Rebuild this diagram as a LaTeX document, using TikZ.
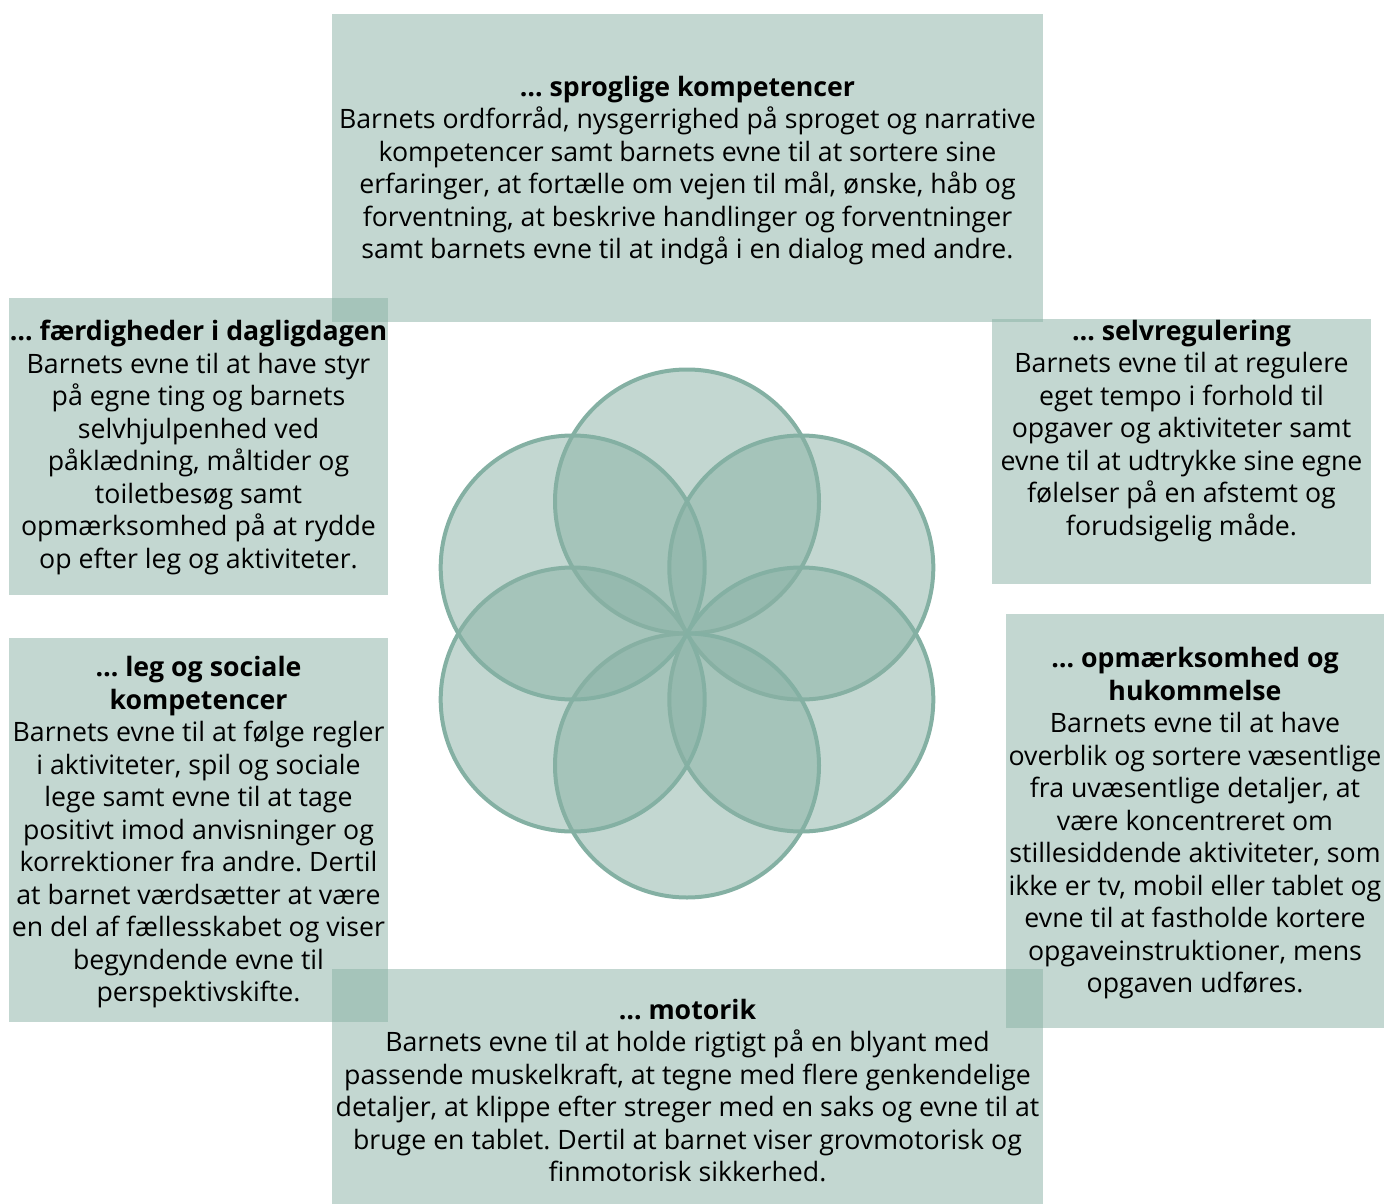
\documentclass[tikz,border=0pt]{standalone}
\usepackage{fontspec}
\setmainfont{Open Sans}
\frenchspacing
\definecolor{boxfill}{RGB}{136,176,164}
\definecolor{ringline}{RGB}{132,176,163}
\begin{document}
\begin{tikzpicture}[x=1pt,y=-1pt,
  panel/.style={rectangle,inner sep=0pt,outer sep=0pt,fill=boxfill,fill opacity=0.5,draw=none},
  petal/.style={circle,inner sep=0pt,outer sep=0pt,minimum size=264pt,fill=boxfill,fill opacity=0.5,draw=ringline,draw opacity=1,line width=4pt},
  txt/.style={inner sep=0pt,align=center,font=\fontsize{26.7}{32.5}\selectfont\frenchspacing,text=black}]
\useasboundingbox (0,0) rectangle (1384,1204);
% panels
\node[panel,minimum width=711pt,minimum height=308pt] (ptop) at (687.5,168) {};
\node[panel,minimum width=379pt,minimum height=297pt] (plt) at (198.5,446.5) {};
\node[panel,minimum width=379pt,minimum height=265pt] (prt) at (1181.5,451.5) {};
\node[panel,minimum width=379pt,minimum height=384pt] (plb) at (198.5,830) {};
\node[panel,minimum width=378pt,minimum height=414pt] (prb) at (1195,821) {};
\node[panel,minimum width=711pt,minimum height=235pt] (pbot) at (687.5,1086.5) {};
% petals
\coordinate (hub) at (687,633.5);
\node[petal] (c1) at (687,501.5) {};
\node[petal] (c2) at (801.3,567.5) {};
\node[petal] (c3) at (801.3,699.5) {};
\node[petal] (c4) at (687,765.5) {};
\node[petal] (c5) at (572.7,699.5) {};
\node[petal] (c6) at (572.7,567.5) {};
% texts
\node[txt] (ttop) at (687.5,170.5) {\textbf{… sproglige kompetencer}\\
Barnets ordforråd, nysgerrighed på sproget og narrative\\
kompetencer samt barnets evne til at sortere sine\\
erfaringer, at fortælle om vejen til mål, ønske, håb og\\
forventning, at beskrive handlinger og forventninger\\
samt barnets evne til at indgå i en dialog med andre.};
\node[txt] (tlt) at (198.5,447.5) {\textbf{… færdigheder i dagligdagen}\\
Barnets evne til at have styr\\
på egne ting og barnets\\
selvhjulpenhed ved\\
påklædning, måltider og\\
toiletbesøg samt\\
opmærksomhed på at rydde\\
op efter leg og aktiviteter.};
\node[txt] (trt) at (1181.5,431) {\textbf{… selvregulering}\\
Barnets evne til at regulere\\
eget tempo i forhold til\\
opgaver og aktiviteter samt\\
evne til at udtrykke sine egne\\
følelser på en afstemt og\\
forudsigelig måde.};
\node[txt] (tlb) at (198.5,832.5) {\textbf{… leg og sociale}\\
\textbf{kompetencer}\\
Barnets evne til at følge regler\\
i aktiviteter, spil og sociale\\
lege samt evne til at tage\\
positivt imod anvisninger og\\
korrektioner fra andre. Dertil\\
at barnet værdsætter at være\\
en del af fællesskabet og viser\\
begyndende evne til\\
perspektivskifte.};
\node[txt] (trb) at (1195,823.5) {\textbf{… opmærksomhed og}\\
\textbf{hukommelse}\\
Barnets evne til at have\\
overblik og sortere væsentlige\\
fra uvæsentlige detaljer, at\\
være koncentreret om\\
stillesiddende aktiviteter, som\\
ikke er tv, mobil eller tablet og\\
evne til at fastholde kortere\\
opgaveinstruktioner, mens\\
opgaven udføres.};
\node[txt] (tbot) at (687.5,1090.5) {\textbf{… motorik}\\
Barnets evne til at holde rigtigt på en blyant med\\
passende muskelkraft, at tegne med flere genkendelige\\
detaljer, at klippe efter streger med en saks og evne til at\\
bruge en tablet. Dertil at barnet viser grovmotorisk og\\
finmotorisk sikkerhed.};
\end{tikzpicture}
\end{document}
